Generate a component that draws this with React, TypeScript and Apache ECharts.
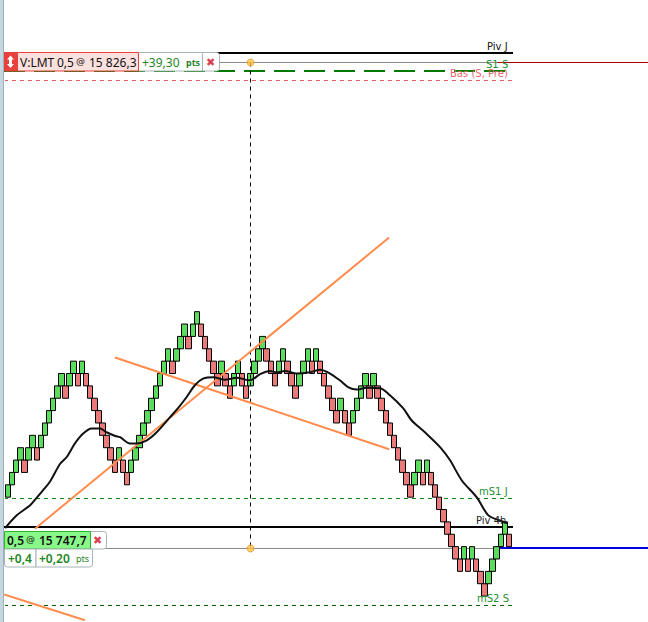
import React, { useEffect, useRef } from "react";
import * as echarts from "echarts";

const brickSize = 2;
const brickLow = [
  15756, 15758, 15760, 15762, 15760, 15762, 15764, 15762, 15764, 15766,
  15768, 15770, 15772, 15774, 15772, 15774, 15776, 15774, 15776, 15774,
  15772, 15770, 15768, 15766, 15764, 15762, 15760, 15762, 15760, 15758,
  15760, 15762, 15764, 15766, 15768, 15770, 15772, 15774, 15776, 15778,
  15776, 15778, 15780, 15782, 15780, 15782, 15784, 15782, 15780, 15778,
  15776, 15774, 15776, 15774, 15772, 15774, 15776, 15774, 15772, 15774,
  15776, 15778, 15780, 15778, 15776, 15774, 15776, 15778, 15776, 15774,
  15772, 15774, 15776, 15778, 15776, 15778, 15776, 15774, 15772, 15770,
  15768, 15770, 15768, 15766, 15768, 15770, 15772, 15774, 15772, 15774,
  15772, 15770, 15768, 15766, 15764, 15762, 15760, 15758, 15756, 15758,
  15760, 15758, 15760, 15758, 15756, 15754, 15752, 15750, 15748, 15746,
  15744, 15746, 15744, 15746, 15744, 15742, 15740, 15742, 15744, 15746, 15748, 15750, 15748,
];
const brickDir = [
  "GGGGRGGRGG", "GGGGRGGRGR", "RRRRRRRGRR", "GGGGGGGGGG", "RGGGRGGRRR", "RRGRRGGRRG",
  "GGGRRRGGRR", "RGGGRGRRRR", "RGRRGGGGRG", "RRRRRRRRRG", "GRGRRRRRRR", "RGRGRRRGGGGGR",
].join("");

const maIndex = [
  -0.7, 2.2, 5.4, 6.6, 8.5, 10.2, 12.7, 14.3, 16.3, 18.3, 20.4, 22.4, 24.0, 26.1, 27.3, 29.7, 31.3,
  33.8, 36.2, 39.4, 41.4, 43.5, 45.5, 47.6, 50.0, 52.8, 55.7, 58.9, 61.4, 63.8, 65.4, 67.4, 70.3,
  73.5, 76.0, 78.4, 80.8, 82.8, 84.9, 87.3, 90.6, 93.0, 96.2, 98.3, 101.5, 105.2, 107.6, 110.5,
  114.1, 116.9, 119.4, 121.6,
];
const maPrice = [
  15751.0, 15753.1, 15754.7, 15755.6, 15757.1, 15758.5, 15761.4, 15762.5, 15764.7, 15766.3, 15767.1,
  15767.1, 15766.5, 15765.9, 15765.7, 15764.7, 15764.7, 15765.2, 15766.5, 15768.9, 15770.4, 15772.2,
  15774.1, 15775.2, 15775.4, 15775.0, 15775.3, 15774.9, 15775.9, 15776.4, 15776.2, 15776.4, 15776.0,
  15776.2, 15776.6, 15776.0, 15774.9, 15773.8, 15773.4, 15773.7, 15773.6, 15772.5, 15770.4, 15768.4,
  15766.5, 15764.1, 15762.0, 15758.7, 15756.0, 15753.1, 15752.3, 15751.8,
];

const trendUp = [[6.57, 15750.9], [92.8, 15798.0]];
const trendDown = [[26.05, 15778.6], [92.8, 15763.75]];
const trendLow = [[-0.97, 15740.27], [18.75, 15736.1]];

const xStart = -0.97;
const xEnd = 122.96;
const xOrder = 119.1;
const xRight = 156;
const xCursor = 59.05;

const pivJ = 15827.84;
const s1S = 15824.93;
const basS = 15823.39;
const mS1J = 15755.79;
const piv4h = 15751.18;
const mS2S = 15738.48;
const sellOrder = 15826.3;
const position = 15747.7;
const positionBlue = 15747.78;

const priceMin = 15735.81;
const priceMax = 15836.41;
const categoryCount = 157;

const SANS = "DejaVu Sans";
const UI = "Noto Sans";
const GREEN = "#1f861f";

function label(text: string, x: number, y: number, fill: string, extra: any = {}) {
  return {
    type: "text",
    x,
    y,
    z: 50,
    style: {
      text,
      fill,
      fontFamily: SANS,
      fontSize: 10,
      textAlign: "left",
      textVerticalAlign: "middle",
      ...extra,
    },
  };
}

function box(x: number, y: number, w: number, h: number, fill: string, stroke: string, r: any = 0, z = 40) {
  return {
    type: "rect",
    z,
    shape: { x: x + 0.5, y: y + 0.5, width: w, height: h, r },
    style: { fill, stroke, lineWidth: 1 },
  };
}

function level(name: string, price: number, from: number, to: number, color: string, width: number, type: any = "solid") {
  return {
    name,
    type: "line",
    xAxisIndex: 1,
    showSymbol: false,
    silent: true,
    z: 3,
    data: [[from, price], [to, price]],
    lineStyle: { color, width, type },
  };
}

function trend(name: string, data: number[][]) {
  return {
    name,
    type: "line",
    xAxisIndex: 1,
    showSymbol: false,
    silent: true,
    z: 6,
    data,
    lineStyle: { color: "#ff8c4d", width: 2 },
  };
}

export default function App() {
  const ref = useRef<HTMLDivElement>(null);

  useEffect(() => {
    const chart = echarts.init(ref.current!, undefined, { renderer: "svg" });
    const candles = brickLow.map((low, i) =>
      brickDir[i] === "G"
        ? [low, low + brickSize, low, low + brickSize]
        : [low + brickSize, low, low, low + brickSize]
    );
    const categories = Array.from({ length: categoryCount }, (_, i) => String(i));

    chart.setOption({
      animation: false,
      backgroundColor: "#ffffff",
      grid: { left: 5.95, top: 0, width: 644.8, height: 622, containLabel: false },
      xAxis: [
        { type: "category", data: categories, show: false, boundaryGap: true },
        { type: "value", min: -0.5, max: categoryCount - 0.5, show: false, splitLine: { show: false } },
      ],
      yAxis: { type: "value", min: priceMin, max: priceMax, show: false, splitLine: { show: false }, scale: true },
      series: [
        level("sellOrderLine", sellOrder, xStart, xOrder, "#8a8a8a", 1),
        level("sellOrderRight", sellOrder, xOrder, xRight, "#b00000", 1),
        level("positionLine", position, xStart, xOrder, "#8a8a8a", 1),
        {
          name: "bricks",
          type: "candlestick",
          xAxisIndex: 0,
          barWidth: 6,
          z: 4,
          silent: true,
          data: candles,
          itemStyle: {
            color: "#5cdc5c",
            color0: "#ea7a7a",
            borderColor: "#000000",
            borderColor0: "#000000",
            borderWidth: 1,
          },
        },
        level("pivJ", pivJ, xStart, xEnd, "#000000", 2),
        level("s1S", s1S, xStart, xEnd, "#007a00", 2, [21, 9]),
        level("basS", basS, xStart, xEnd, "#e8585c", 1, [4, 4]),
        level("mS1J", mS1J, xStart, xEnd, "#008000", 1, [4, 4]),
        level("piv4h", piv4h, xStart, xEnd, "#000000", 2),
        level("mS2S", mS2S, xStart, xEnd, "#006400", 1, [4, 4]),
        level("positionRight", positionBlue, xOrder, xRight, "#0000e6", 2),
        {
          name: "cursor",
          type: "line",
          xAxisIndex: 1,
          showSymbol: false,
          silent: true,
          z: 5,
          data: [[xCursor, sellOrder], [xCursor, position]],
          lineStyle: { color: "#000000", width: 1, type: [4, 4] },
        },
        trend("trendUp", trendUp),
        trend("trendDown", trendDown),
        trend("trendLow", trendLow),
        {
          name: "ma",
          type: "line",
          xAxisIndex: 1,
          showSymbol: false,
          silent: true,
          smooth: 0.3,
          z: 7,
          data: maIndex.map((x, i) => [x, maPrice[i]]),
          lineStyle: { color: "#111111", width: 2 },
        },
        {
          name: "handles",
          type: "scatter",
          xAxisIndex: 1,
          silent: true,
          z: 8,
          symbolSize: 7,
          data: [[xCursor, sellOrder], [xCursor, position]],
          itemStyle: { color: "#ffc23c", borderColor: "#e0953a", borderWidth: 1 },
        },
      ],
      graphic: {
        elements: [
          { type: "rect", z: 60, shape: { x: 0, y: 0, width: 3, height: 622 }, style: { fill: "#c6d6e1" } },
          { type: "rect", z: 60, shape: { x: 3, y: 0, width: 1, height: 622 }, style: { fill: "#9fb0bc" } },

          label("Piv J", 487, 46, "#111111"),
          label("S1 S", 486, 64.5, "#1c8f2c"),
          label("Bas (S, Pre)", 450, 73, "#e4656b"),
          label("mS1 J", 479, 491, "#1c8f2c"),
          label("Piv 4h", 476, 520, "#222222"),
          label("mS2 S", 477, 598, "#1c8f2c"),

          box(202, 52, 17, 18.5, "#ffffff", "#a8b4b8", [0, 3, 3, 0]),
          box(138, 52, 64, 18.5, "#ffffff", "#a8b4b8"),
          box(17, 52, 121, 18.5, "#fde1df", "#e8403c"),
          box(4, 52, 13, 18.5, "#e8403c", "#e8403c"),
          {
            type: "polygon",
            z: 45,
            shape: { points: [[10.5, 55.5], [14, 59.5], [12, 59.5], [12, 64], [14, 64], [10.5, 68], [7, 64], [9, 64], [9, 59.5], [7, 59.5]] },
            style: { fill: "#ffffff" },
          },
          label("V:LMT", 20, 62, "#111111", { fontFamily: UI, fontSize: 12 }),
          label("0,5", 57, 62, "#111111", { fontFamily: UI, fontSize: 12 }),
          label("@", 76, 61, "#111111", { fontSize: 9 }),
          label("15 826,3", 89, 62, "#111111", { fontFamily: UI, fontSize: 12 }),
          label("+39,30", 142, 62, GREEN, { fontFamily: UI, fontSize: 12 }),
          label("pts", 186, 62, GREEN, { fontFamily: UI, fontSize: 9, fontWeight: "bold" }),
          label("✖", 206, 62, "#d84452", { fontSize: 11 }),

          box(90, 531, 16, 17.5, "#ffffff", "#a8b4b8", [0, 3, 3, 0]),
          box(4, 531, 86, 17.5, "#88f888", "#2ab52a"),
          label("0,5", 7, 540, "#111111", { fontFamily: UI, fontSize: 12, fontWeight: 600 }),
          label("@", 26, 539, "#111111", { fontSize: 9 }),
          label("15 747,7", 39, 540, "#111111", { fontFamily: UI, fontSize: 12, fontWeight: 600 }),
          label("✖", 93, 540, "#d84452", { fontSize: 11 }),
          box(4, 548.5, 31.5, 18, "#ffffff", "#a8b4b8", [0, 0, 0, 3]),
          box(35.5, 548.5, 56.5, 18, "#ffffff", "#a8b4b8", [0, 0, 3, 0]),
          label("+0,4", 8, 558, GREEN, { fontFamily: UI, fontSize: 12, fontWeight: 600 }),
          label("+0,20", 39, 558, GREEN, { fontFamily: UI, fontSize: 12, fontWeight: 600 }),
          label("pts", 76, 558, GREEN, { fontFamily: UI, fontSize: 9 }),
        ],
      },
    });
    return () => chart.dispose();
  }, []);

  return (
    <div style={{ position: "fixed", left: 0, top: 0, width: 648, height: 622, overflow: "hidden" }}>
      <div ref={ref} style={{ width: 660, height: 622 }} />
    </div>
  );
}
